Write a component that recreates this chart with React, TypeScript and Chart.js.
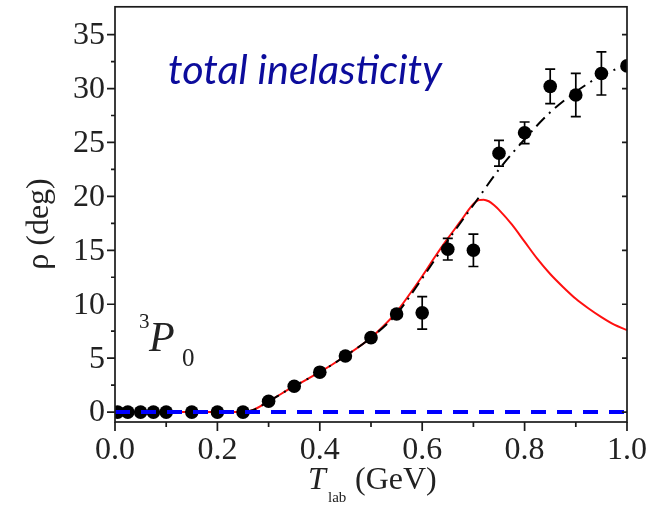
import React, { useEffect, useRef } from 'react';
import { Chart, registerables } from 'chart.js';

Chart.register(...registerables);

// Experimental points: T_lab (GeV), rho (deg), error (deg)
const expX = [0.005, 0.025, 0.05, 0.075, 0.1, 0.15, 0.2, 0.25, 0.3, 0.35, 0.4, 0.45, 0.5, 0.55, 0.6, 0.65, 0.7, 0.75, 0.8, 0.85, 0.9, 0.95, 1.0];
const expY = [0, 0, 0, 0, 0, 0, 0, 0, 1.0, 2.4, 3.7, 5.2, 6.9, 9.1, 9.2, 15.1, 15.0, 24.0, 25.9, 30.2, 29.4, 31.4, 32.1];
const expErr = [0, 0, 0, 0, 0, 0, 0, 0, 0, 0, 0, 0, 0, 0, 1.5, 1.0, 1.5, 1.2, 1.0, 1.6, 2.0, 2.0, 0];

// Red solid curve
const redX = [0, 0.05, 0.1, 0.15, 0.2, 0.25, 0.27, 0.3, 0.35, 0.4, 0.45, 0.5, 0.525, 0.55, 0.575, 0.6, 0.625, 0.65, 0.675, 0.69, 0.7, 0.71, 0.72, 0.73, 0.74, 0.75, 0.775, 0.8, 0.825, 0.85, 0.875, 0.9, 0.925, 0.95, 0.975, 1.0];
const redY = [0, 0, 0, 0, 0, 0, 0.2, 1.0, 2.4, 3.7, 5.2, 6.9, 8.0, 9.3, 10.9, 12.6, 14.4, 16.1, 17.7, 18.7, 19.3, 19.65, 19.7, 19.55, 19.2, 18.75, 17.4, 15.8, 14.2, 12.8, 11.6, 10.5, 9.6, 8.8, 8.1, 7.6];

// Black dash-dot curve
const blackX = [0, 0.05, 0.1, 0.15, 0.2, 0.25, 0.27, 0.3, 0.35, 0.4, 0.45, 0.5, 0.55, 0.6, 0.65, 0.7, 0.75, 0.8, 0.85, 0.9, 0.95, 1.0];
const blackY = [0, 0, 0, 0, 0, 0, 0.2, 1.0, 2.4, 3.7, 5.2, 6.9, 9.1, 12.4, 15.9, 19.2, 22.5, 25.3, 27.8, 29.7, 31.2, 32.2];

// Blue dashed curve
const blueX = [0, 1.0];
const blueY = [0, 0];

// Axes
const xMin = 0;
const xMax = 1.0;
const yMin = -0.92;
const yMax = 37.58;
const xMajorTicks = [0, 0.2, 0.4, 0.6, 0.8, 1.0];
const xTickLabels = ['0.0', '0.2', '0.4', '0.6', '0.8', '1.0'];
const xMinorTicks = [0.1, 0.3, 0.5, 0.7, 0.9];
const yMajorTicks = [0, 5, 10, 15, 20, 25, 30, 35];
const yTickLabels = ['0', '5', '10', '15', '20', '25', '30', '35'];
const yMinorTicks = [2.5, 7.5, 12.5, 17.5, 22.5, 27.5, 32.5];

const toPts = (xs: number[], ys: number[]) => xs.map((x, i) => ({ x, y: ys[i] }));

export default function App() {
  const ref = useRef<HTMLCanvasElement>(null);

  useEffect(() => {
    const canvas = ref.current;
    if (!canvas) return;

    const decorPlugin = {
      id: 'decor',
      afterDatasetDraw(chart: any, args: any) {
        if (args.index !== 1) return;
        const ctx = chart.ctx;
        const xs = chart.scales.x;
        const ys = chart.scales.y;
        ctx.save();
        ctx.strokeStyle = '#000';
        ctx.lineWidth = 1.7;
        expX.forEach((x, i) => {
          const e = expErr[i];
          if (!e) return;
          const px = xs.getPixelForValue(x);
          const y1 = ys.getPixelForValue(expY[i] + e);
          const y2 = ys.getPixelForValue(expY[i] - e);
          ctx.beginPath();
          ctx.moveTo(px, y1);
          ctx.lineTo(px, y2);
          ctx.moveTo(px - 5, y1);
          ctx.lineTo(px + 5, y1);
          ctx.moveTo(px - 5, y2);
          ctx.lineTo(px + 5, y2);
          ctx.stroke();
        });
        ctx.restore();
      },
      afterDraw(chart: any) {
        const ctx = chart.ctx;
        const a = chart.chartArea;
        const xs = chart.scales.x;
        const ys = chart.scales.y;
        ctx.save();
        ctx.strokeStyle = '#1a1a1a';
        ctx.lineWidth = 1.7;
        ctx.strokeRect(a.left, a.top, a.right - a.left, a.bottom - a.top);
        ctx.beginPath();
        yMajorTicks.forEach((v) => {
          const py = ys.getPixelForValue(v);
          ctx.moveTo(a.left - 8, py);
          ctx.lineTo(a.left, py);
          ctx.moveTo(a.right - 5, py);
          ctx.lineTo(a.right, py);
        });
        yMinorTicks.forEach((v) => {
          const py = ys.getPixelForValue(v);
          ctx.moveTo(a.left - 4, py);
          ctx.lineTo(a.left, py);
        });
        xMajorTicks.forEach((v) => {
          const px = xs.getPixelForValue(v);
          ctx.moveTo(px, a.bottom);
          ctx.lineTo(px, a.bottom + 9);
        });
        xMinorTicks.forEach((v) => {
          const px = xs.getPixelForValue(v);
          ctx.moveTo(px, a.bottom);
          ctx.lineTo(px, a.bottom + 5);
        });
        ctx.stroke();

        // tick labels
        ctx.fillStyle = '#222';
        ctx.font = '32px "Liberation Serif"';
        ctx.textAlign = 'right';
        ctx.textBaseline = 'middle';
        yMajorTicks.forEach((v, i) => {
          ctx.fillText(yTickLabels[i], a.left - 10, ys.getPixelForValue(v) + 1);
        });
        ctx.textAlign = 'center';
        ctx.textBaseline = 'alphabetic';
        xMajorTicks.forEach((v, i) => {
          ctx.fillText(xTickLabels[i], xs.getPixelForValue(v), 459);
        });

        // y axis title
        ctx.save();
        ctx.translate(48, 224);
        ctx.rotate(-Math.PI / 2);
        ctx.textAlign = 'center';
        ctx.font = '32px "Liberation Serif"';
        ctx.fillText('\u03c1 (deg)', 0, 0);
        ctx.restore();

        // x axis title
        ctx.textAlign = 'left';
        ctx.font = 'italic 32px "Liberation Serif"';
        ctx.fillText('T', 308, 489);
        ctx.font = '15px "Liberation Serif"';
        ctx.fillText('lab', 328, 502);
        ctx.font = '32px "Liberation Serif"';
        ctx.fillText('(GeV)', 355, 489);

        // 3P0 label
        ctx.font = '21px "Liberation Serif"';
        ctx.fillText('3', 139, 328);
        ctx.font = 'italic 42px "Liberation Serif"';
        ctx.fillText('P', 149, 351);
        ctx.font = '25px "Liberation Serif"';
        ctx.fillText('0', 182, 366);

        // total inelasticity
        const txt = 'total inelasticity';
        ctx.font = 'italic 34px Lato';
        const w = ctx.measureText(txt).width;
        const size = 34 * 274 / w;
        ctx.font = `italic ${size.toFixed(1)}px Lato`;
        ctx.fillStyle = '#0c0c9c';
        ctx.fillText(txt, 168, 84);
        ctx.restore();
      },
    };

    const chart = new Chart(canvas, {
      type: 'scatter',
      data: {
        datasets: [
          {
            label: 'zero',
            data: toPts(blueX, blueY),
            showLine: true,
            borderColor: '#0000ff',
            borderWidth: 4,
            borderDash: [15, 11],
            pointRadius: 0,
            order: 0,
          },
          {
            label: 'data',
            data: toPts(expX, expY),
            showLine: false,
            backgroundColor: '#000',
            borderWidth: 0,
            pointRadius: 6.8,
            pointHoverRadius: 6.8,
            order: 1,
          },
          {
            label: 'dashdot',
            data: toPts(blackX, blackY),
            showLine: true,
            borderColor: '#000',
            borderWidth: 2,
            borderDash: [12, 6, 2, 6],
            pointRadius: 0,
            cubicInterpolationMode: 'monotone',
            order: 2,
          },
          {
            label: 'red',
            data: toPts(redX, redY),
            showLine: true,
            borderColor: '#ff1010',
            borderWidth: 2,
            pointRadius: 0,
            cubicInterpolationMode: 'monotone',
            order: 3,
          },
        ],
      },
      options: {
        animation: false,
        responsive: false,
        maintainAspectRatio: false,
        layout: { padding: { left: 115, right: 19, top: 5, bottom: 83 } },
        plugins: { legend: { display: false }, tooltip: { enabled: false } },
        scales: {
          x: { type: 'linear', min: xMin, max: xMax, display: false },
          y: { type: 'linear', min: yMin, max: yMax, display: false },
        },
      },
      plugins: [decorPlugin],
    });

    return () => chart.destroy();
  }, []);

  return (
    <div style={{ position: 'fixed', left: 0, top: 0, width: 646, height: 505, background: '#fff' }}>
      <canvas ref={ref} width={646} height={505} style={{ width: 646, height: 505, display: 'block' }} />
    </div>
  );
}
